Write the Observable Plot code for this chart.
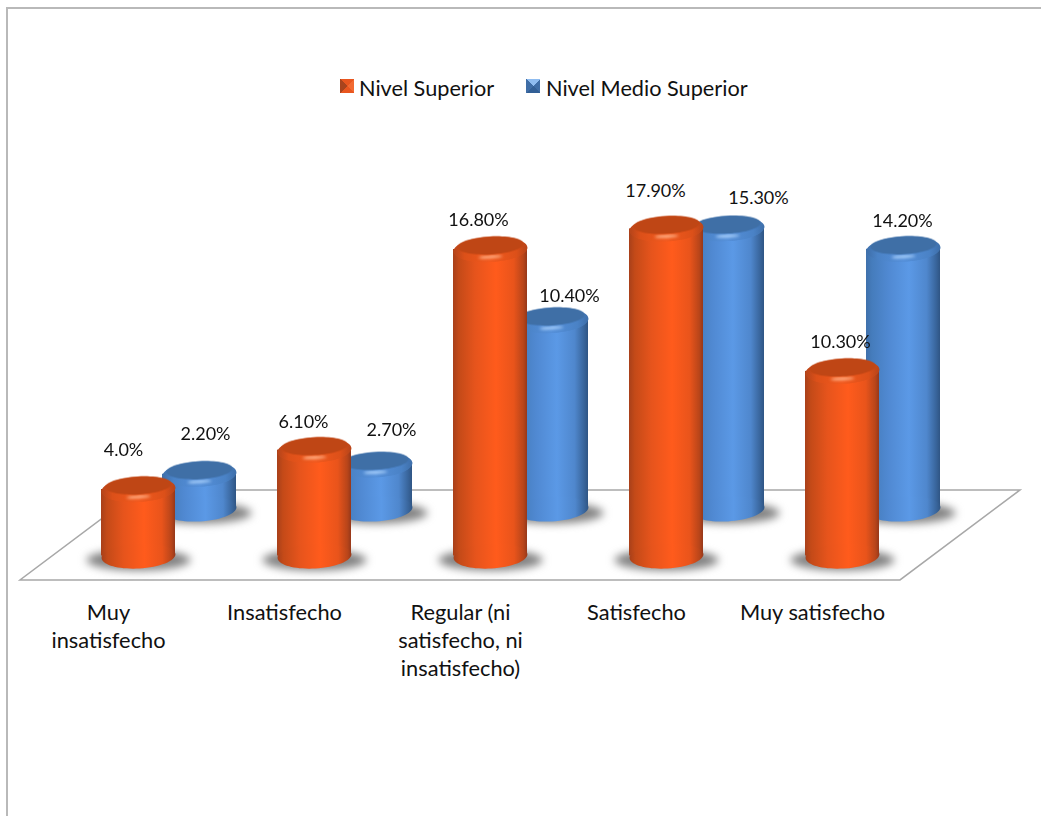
<!DOCTYPE html>
<html><head><meta charset="utf-8">
<script src="https://cdn.jsdelivr.net/npm/d3@7"></script>
<script src="https://cdn.jsdelivr.net/npm/@observablehq/plot@0.6"></script>
<style>
html,body{margin:0;background:#fff}
#page{position:relative;width:1041px;height:816px;overflow:hidden;font-family:Lato,sans-serif;color:#111}
#page:before{content:"";position:absolute;left:6px;top:7px;right:-4px;bottom:-4px;border:2px solid #b9b9b9}
#legend{position:relative;height:120px}
.it{position:absolute;top:74px;font-size:21.7px;line-height:28px;white-space:nowrap}
.sw{position:absolute;top:79px;width:14px;height:14px}
svg{display:block;position:relative}
</style></head><body>
<div id="page"><div id="legend"></div><div id="chart"></div></div>
<script>
const categories = ["Muy\ninsatisfecho","Insatisfecho","Regular (ni\nsatisfecho, ni\ninsatisfecho)","Satisfecho","Muy satisfecho"];
const seriesNames = ["Nivel Superior","Nivel Medio Superior"];
const nivelSuperior = [4.0,6.1,16.8,17.9,10.3];
const nivelMedioSuperior = [2.2,2.7,10.4,15.3,14.2];
const labelsSuperior = ["4.0%","6.10%","16.80%","17.90%","10.30%"];
const labelsMedio = ["2.20%","2.70%","10.40%","15.30%","14.20%"];
const labelShiftSuperior = [[-15,-39],[-11,-28],[-12,-29],[-11,-38],[-2,-29]];
const labelShiftMedio = [[6,-40],[16,-35],[18,-24],[31,-30],[-1,-28]];

const cylW = 74, rx = 37, ry = 12.5, tilt = -0.055;
function ellipseSymbol(a, b, t) {
  const k = 0.5523, c = Math.cos(t), s = Math.sin(t);
  const P = (x, y) => [x * c - y * s, x * s + y * c];
  return {draw(ctx) {
    ctx.moveTo(...P(a, 0));
    ctx.bezierCurveTo(...P(a, b * k), ...P(a * k, b), ...P(0, b));
    ctx.bezierCurveTo(...P(-a * k, b), ...P(-a, b * k), ...P(-a, 0));
    ctx.bezierCurveTo(...P(-a, -b * k), ...P(-a * k, -b), ...P(0, -b));
    ctx.bezierCurveTo(...P(a * k, -b), ...P(a, -b * k), ...P(a, 0));
    ctx.closePath();
  }};
}
function defs() {
  const d = d3.create("svg:defs");
  const grad = (id, stops) => {
    const g = d.append("linearGradient").attr("id", id);
    stops.forEach(([o, c]) => g.append("stop").attr("offset", o).attr("stop-color", c));
  };
  grad("orangeBody", [[0,"#a8401a"],[0.08,"#c44a18"],[0.3,"#e6541c"],[0.58,"#ff5b1c"],[0.82,"#e9541b"],[0.95,"#b8451a"],[1,"#96381a"]]);
  grad("blueBody", [[0,"#3f70ab"],[0.08,"#457cbc"],[0.3,"#5089d2"],[0.58,"#5b99e6"],[0.82,"#4f87cd"],[0.95,"#38649a"],[1,"#2f5584"]]);
  grad("orangeRim", [[0,"#b8451a"],[0.14,"#dc5019"],[0.5,"#f2591e"],[0.86,"#dc5019"],[1,"#b8451a"]]);
  grad("blueRim", [[0,"#3f70ab"],[0.14,"#4a82c6"],[0.5,"#5590da"],[0.86,"#4a82c6"],[1,"#3f70ab"]]);
  return d.node();
}
const floorFront = -0.85, floorBack = 3.95, floorDepth = 120;
function floor(index, {y}, values, {marginLeft, width, marginRight}) {
  const L = marginLeft, R = width - marginRight;
  return d3.create("svg:path")
    .attr("d", `M${L},${y(floorFront)}L${R},${y(floorFront)}L${R+floorDepth},${y(floorBack)}L${L+floorDepth},${y(floorBack)}Z`)
    .attr("fill", "#fff").attr("stroke", "#a8a8a8").attr("stroke-width", 1.5).node();
}
function cylinders(vals, base, off, dy, fills) {
  const rows = categories.map((c, i) => ({c, v: vals[i], base}));
  const inset = (176 - cylW) / 2;
  const dot = (yf, sym, extra) => Plot.dot(rows, {x: "c", y: yf, r: 10, symbol: sym, dx: off, ...extra});
  return [
    dot("base", ellipseSymbol(rx + 15, ry - 2, 0), {dy: dy + 4, fill: "#828282", imageFilter: "blur(4px)"}),
    Plot.barY(rows, {x: "c", y1: "base", y2: "v", fill: fills.body, insetLeft: inset, insetRight: inset, dx: off, dy}),
    dot("base", ellipseSymbol(rx, ry, tilt), {dy, fill: fills.body}),
    dot("v", ellipseSymbol(rx, ry, tilt), {dy, fill: fills.rim}),
    dot("v", ellipseSymbol(rx - 1, ry - 1, tilt), {dy: dy + 1, fill: fills.rim}),
    dot("v", ellipseSymbol(12, 1.3, tilt), {dy: dy + 7.5, fill: fills.glow, imageFilter: "blur(1.4px)"}),
    dot("v", ellipseSymbol(rx - 4, ry - 3.5, tilt), {dy: dy - 4, fill: fills.top, imageFilter: "blur(0.7px)"})
  ];
}
function labels(vals, texts, shifts, off, dy) {
  return texts.map((t, i) => Plot.text([t], {
    x: () => categories[i], y: () => vals[i], text: d => d,
    dx: off + shifts[i][0], dy: dy + shifts[i][1], fontSize: 18, fontFamily: "Lato, sans-serif", fill: "#111"
  }));
}
const backDy = -49, frontOff = 30, backOff = 91;
const plot = Plot.plot({
  width: 1041, height: 696,
  marginLeft: 20, marginRight: 141, marginTop: 0, marginBottom: 216,
  style: {background: "transparent", overflow: "visible"},
  x: {type: "band", domain: categories, padding: 0, label: null},
  y: {domain: [0, 18], range: [444, 106.5], label: null, axis: null},
  marks: [
    defs, floor,
    ...cylinders(nivelMedioSuperior, 0.35, backOff, backDy, {body: "url(#blueBody)", rim: "url(#blueRim)", top: "#3f6fa6", glow: "#b4d8ff"}),
    ...cylinders(nivelSuperior, 0.45, frontOff, 0, {body: "url(#orangeBody)", rim: "url(#orangeRim)", top: "#bf4615", glow: "#ffbd96"}),
    ...labels(nivelMedioSuperior, labelsMedio, labelShiftMedio, backOff, backDy),
    ...labels(nivelSuperior, labelsSuperior, labelShiftSuperior, frontOff, 0),
    Plot.axisX({domain: categories, anchor: "bottom", tickSize: 0, tickPadding: 0, label: null, fontSize: 21.8, fontFamily: "Lato, sans-serif", lineHeight: 1.28, fill: "#111", textAnchor: "middle", tickFormat: d => d, lineWidth: 30})
  ]
});
document.getElementById("chart").append(plot);
const lg = document.getElementById("legend");
[[340,359,"conic-gradient(from 225deg at 50% 50%,#a9441d 0 25%,#e9561f 25% 50%,#f26a32 50% 75%,#e9561f 75% 100%)",seriesNames[0]],
 [526,546,"conic-gradient(from 45deg at 50% 50%,#3f6da6 0 25%,#325f96 25% 50%,#3f6da6 50% 75%,#8fbcf0 75% 100%)",seriesNames[1]]].forEach(([sx,tx,bg,name])=>{
  const s=document.createElement("div");s.className="sw";s.style.left=sx+"px";s.style.background=bg;lg.append(s);
  const t=document.createElement("div");t.className="it";t.style.left=tx+"px";t.textContent=name;lg.append(t);
});
</script></body></html>
